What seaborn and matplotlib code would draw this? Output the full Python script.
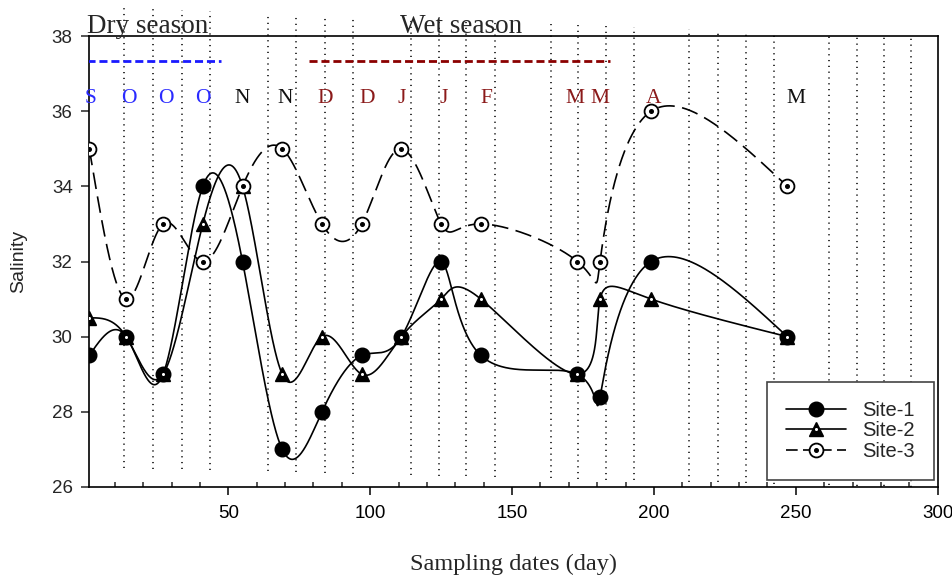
import numpy as np
import pandas as pd
import matplotlib
matplotlib.use("Agg")
import matplotlib.pyplot as plt
from matplotlib.lines import Line2D
from matplotlib.legend_handler import HandlerTuple
import seaborn as sns

# ---------------- data ----------------
days = [1, 14, 27, 41, 55, 69, 83, 97, 111, 125, 139, 173, 181, 199, 247]
site1 = [29.5, 30, 29, 34, 32, 27, 28, 29.5, 30, 32, 29.5, 29, 28.4, 32, 30]
site2 = [30.5, 30, 29, 33, 34, 29, 30, 29, 30, 31, 31, 29, 31, 31, 30]
site3 = [35, 31, 33, 32, 34, 35, 33, 33, 35, 33, 33, 32, 32, 36, 34]

month_letters = ["S", "O", "O", "O", "N", "N", "D", "D", "J", "J", "F", "M", "M", "A", "M"]
month_x = [1.5, 15, 28, 41, 55, 70, 84, 99, 111, 126, 141, 172, 181, 200, 250]
month_colors = ["#2a2aff"] * 4 + ["#111111"] * 2 + ["#8b1a1a"] * 8 + ["#111111"]

grid_days = [13.3, 23.5, 33.6, 43.6, 63.9, 73.9, 84.1, 94.1, 114.2, 124.1, 133.9,
             143.9, 163.6, 173.3, 183.2, 193.0, 212.4, 222.6, 232.4, 242.2,
             261.8, 271.5, 281.0, 290.6]

dry_span = [0.3, 47.4]
wet_span = [78.4, 184.5]
season_line_y = 37.34


def natural_spline(x, y, xs):
    x = np.asarray(x, float)
    y = np.asarray(y, float)
    n = len(x)
    h = np.diff(x)
    A = np.zeros((n, n))
    b = np.zeros(n)
    A[0, 0] = 1
    A[-1, -1] = 1
    for i in range(1, n - 1):
        A[i, i - 1] = h[i - 1]
        A[i, i] = 2 * (h[i - 1] + h[i])
        A[i, i + 1] = h[i]
        b[i] = 6 * ((y[i + 1] - y[i]) / h[i] - (y[i] - y[i - 1]) / h[i - 1])
    M = np.linalg.solve(A, b)
    idx = np.clip(np.searchsorted(x, xs) - 1, 0, n - 2)
    x0, x1 = x[idx], x[idx + 1]
    hh = x1 - x0
    t0 = x1 - xs
    t1 = xs - x0
    return (M[idx] * t0 ** 3 / (6 * hh) + M[idx + 1] * t1 ** 3 / (6 * hh)
            + (y[idx] / hh - M[idx] * hh / 6) * t0
            + (y[idx + 1] / hh - M[idx + 1] * hh / 6) * t1)


def param_spline(x, y, n_per=120):
    t = np.arange(len(x), dtype=float)
    ts = np.linspace(0, len(x) - 1, n_per * (len(x) - 1) + 1)
    return natural_spline(t, x, ts), natural_spline(t, y, ts)


# ---------------- figure ----------------
sns.set_theme(style="ticks")
plt.rcParams["font.family"] = ["Liberation Sans", "DejaVu Sans"]
SERIF = ["Liberation Serif", "DejaVu Serif"]

fig = plt.figure(figsize=(9.52, 5.79), dpi=100)
ax = fig.add_axes([0.0938, 0.1589, 0.8912, 0.7789])

# dotted vertical guide lines (slightly varying extents as in the original)
for gx in grid_days:
    px = 86.4 + 2.8376 * gx
    top_px = 8 + (px - 124) * 0.0369
    bot_px = 468 + (px - 124) * 0.0242
    ax.axvline(gx, ymin=(487 - bot_px) / 451, ymax=(487 - top_px) / 451,
               color="black", lw=1.1, ls=(0, (0.8, 3.0)), clip_on=False, zorder=1)

# smooth curves (parametric spline through the samples)
frames = []
for name, vals in [("Site-1", site1), ("Site-2", site2), ("Site-3", site3)]:
    cx, cy = param_spline(days, vals)
    frames.append(pd.DataFrame({"day": cx, "sal": cy, "site": name}))
curves = pd.concat(frames)

sns.lineplot(data=curves[curves.site == "Site-3"], x="day", y="sal", ax=ax,
             color="black", lw=1.2, legend=False, zorder=2, estimator=None, sort=False)
ax.lines[-1].set_dashes((10, 4.5))
sns.lineplot(data=curves[curves.site == "Site-1"], x="day", y="sal", ax=ax,
             color="black", lw=1.2, legend=False, zorder=2, estimator=None, sort=False)
sns.lineplot(data=curves[curves.site == "Site-2"], x="day", y="sal", ax=ax,
             color="black", lw=1.2, legend=False, zorder=2, estimator=None, sort=False)

# markers
ax.plot(days, site1, ls="none", marker="o", ms=10.5, mfc="black", mec="black", zorder=4)
ax.plot(days, site2, ls="none", marker="^", ms=10, mfc="black", mec="black", mew=1, zorder=5)
ax.plot(days, site2, ls="none", marker="o", ms=2.2, mfc="white", mec="white", mew=0, zorder=6)
ax.plot(days, site3, ls="none", marker="o", ms=10, mfc="white", mec="black", mew=1.3, zorder=7)
ax.plot(days, site3, ls="none", marker="o", ms=2.6, mfc="black", mec="black", zorder=8)

# season lines and labels
ax.plot(dry_span, [season_line_y] * 2, color="#1a1aff", lw=2.0, ls=(0, (2.9, 1.4)), zorder=3)
ax.plot(wet_span, [season_line_y] * 2, color="#8b0000", lw=2.0, ls=(0, (2.9, 1.4)), zorder=3)
ax.text(0.1, 38.08, "Dry season", family=SERIF, fontsize=19.5,
        ha="left", va="baseline", clip_on=False)
ax.text(110.5, 38.08, "Wet season", family=SERIF, fontsize=19.5,
        ha="left", va="baseline", clip_on=False)
for lx, lt, lc in zip(month_x, month_letters, month_colors):
    ax.text(lx, 36.22, lt, color=lc, family=SERIF,
            fontsize=15.5, ha="center", va="baseline", zorder=3)

# axes
ax.set_xlim(1, 300)
ax.set_ylim(26, 38)
ax.set_xticks([50, 100, 150, 200, 250, 300])
ax.set_xticks(np.arange(10, 300, 10), minor=True)
ax.set_yticks(np.arange(26, 39, 2))
ax.tick_params(axis="x", which="major", direction="out", length=6, width=1.1,
               labelsize=13.5, pad=7, colors="black")
ax.tick_params(axis="x", which="minor", direction="in", length=3.5, width=1.1)
ax.tick_params(axis="y", which="major", direction="out", length=6, width=1.1,
               labelsize=13.5, pad=6)
for s in ax.spines.values():
    s.set_linewidth(1.2)
    s.set_color("black")
ax.set_xlabel("Sampling dates (day)", family=SERIF, fontsize=17.5, labelpad=23)
ax.set_ylabel("Salinity", fontsize=14, labelpad=18)

# legend
h1 = Line2D([], [], color="black", lw=1.2, marker="o", ms=10.5, mfc="black", mec="black")
h2a = Line2D([], [], color="black", lw=1.2, marker="^", ms=10, mfc="black", mec="black")
h2b = Line2D([], [], ls="none", marker="o", ms=2.2, mfc="white", mec="white", mew=0)
h3a = Line2D([], [], color="black", lw=1.2, dashes=(7, 3.2), marker="o", ms=10,
             mfc="white", mec="black", mew=1.3)
h3b = Line2D([], [], ls="none", marker="o", ms=2.6, mfc="black", mec="black")
leg = ax.legend([h1, (h2a, h2b), (h3a, h3b)], ["Site-1", "Site-2", "Site-3"],
                handler_map={tuple: HandlerTuple(ndivide=1, pad=0)},
                loc="lower right", bbox_to_anchor=(0.9957, 0.0155), borderaxespad=0,
                fontsize=14.5, handlelength=3.0, handletextpad=0.8, labelspacing=0.08,
                borderpad=0.95, fancybox=False, framealpha=1, edgecolor="#444444")
leg.get_frame().set_linewidth(1.2)

fig.savefig("out.png", dpi=100)
